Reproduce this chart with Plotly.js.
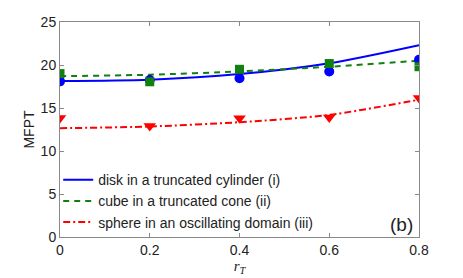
<!DOCTYPE html>
<html><head><meta charset="utf-8">
<script src="https://cdn.plot.ly/plotly-3.0.1.min.js"></script>
<style>html,body{margin:0;padding:0;background:#fff}</style>
</head><body><div id="c" style="width:463px;height:278px"></div>
<script>
const rT = [0, 0.2, 0.4, 0.6, 0.8];
const lineDisk = [18.14, 18.29, 18.94, 20.2, 22.3];
const lineCube = [18.7, 18.87, 19.25, 19.8, 20.5];
const lineSphere = [12.65, 12.85, 13.35, 14.2, 15.97];
const ptsDisk = [18.1, 18.25, 18.45, 19.25, 20.6];
const ptsCube = [19.0, 18.05, 19.5, 20.17, 19.8];
const ptsSphere = [13.85, 12.9, 13.8, 13.9, 16.15];
const names = ['disk in a truncated cylinder (i)', 'cube in a truncated cone (ii)', 'sphere in an oscillating domain (iii)'];
const colors = ['#0000ff', '#108010', '#ff0000'];

const traces = [
  {x: rT, y: lineDisk, mode: 'lines', name: names[0], line: {color: colors[0], width: 2, shape: 'spline', smoothing: 0.8}},
  {x: rT, y: lineCube, mode: 'lines', name: names[1], line: {color: colors[1], width: 2, dash: '6px,5px', shape: 'spline', smoothing: 0.8}},
  {x: rT, y: lineSphere, mode: 'lines', name: names[2], line: {color: colors[2], width: 2, dash: '7px,3px,2px,3px', shape: 'spline', smoothing: 0.8}},
  {x: rT, y: ptsDisk, mode: 'markers', showlegend: false, marker: {color: colors[0], size: 10, symbol: 'circle'}},
  {x: rT, y: ptsCube, mode: 'markers', showlegend: false, marker: {color: colors[1], size: 9, symbol: 'square'}},
  {x: rT, y: ptsSphere, mode: 'markers', showlegend: false, marker: {color: colors[2], size: 11, symbol: 'triangle-down'}}
];
const axCommon = {showline: true, mirror: 'ticks', linecolor: '#8a8a8a', linewidth: 1, ticks: 'inside', ticklen: 4, tickcolor: '#8a8a8a', showgrid: false, zeroline: false, tickfont: {size: 14, color: '#222'}};
const layout = {
  width: 463, height: 278,
  margin: {l: 60, r: 44, t: 22, b: 41},
  paper_bgcolor: '#fff', plot_bgcolor: '#fff',
  font: {family: 'Liberation Sans, Arial, sans-serif', color: '#222'},
  xaxis: Object.assign({}, axCommon, {range: [0, 0.8], tickvals: rT, ticktext: ['0', '0.2', '0.4', '0.6', '0.8'],
    title: {text: '<i>r<sub>T</sub></i>', font: {family: 'Liberation Serif, serif', size: 15}, standoff: 3}}),
  yaxis: Object.assign({}, axCommon, {range: [0, 25], tickvals: [0, 5, 10, 15, 20, 25],
    title: {text: 'MFPT', font: {size: 14}, standoff: 2}}),
  legend: {x: -0.005, y: -0.005, xanchor: 'left', yanchor: 'bottom', bgcolor: 'rgba(0,0,0,0)', font: {size: 14}, tracegroupgap: 0, itemwidth: 30},
  showlegend: true,
  annotations: [{text: '(b)', xref: 'paper', yref: 'paper', x: 0.99, y: 0.0, xanchor: 'right', yanchor: 'bottom', showarrow: false, font: {size: 19, color: '#222'}}]
};
Plotly.newPlot('c', traces, layout, {displayModeBar: false, staticPlot: true});
</script></body></html>
